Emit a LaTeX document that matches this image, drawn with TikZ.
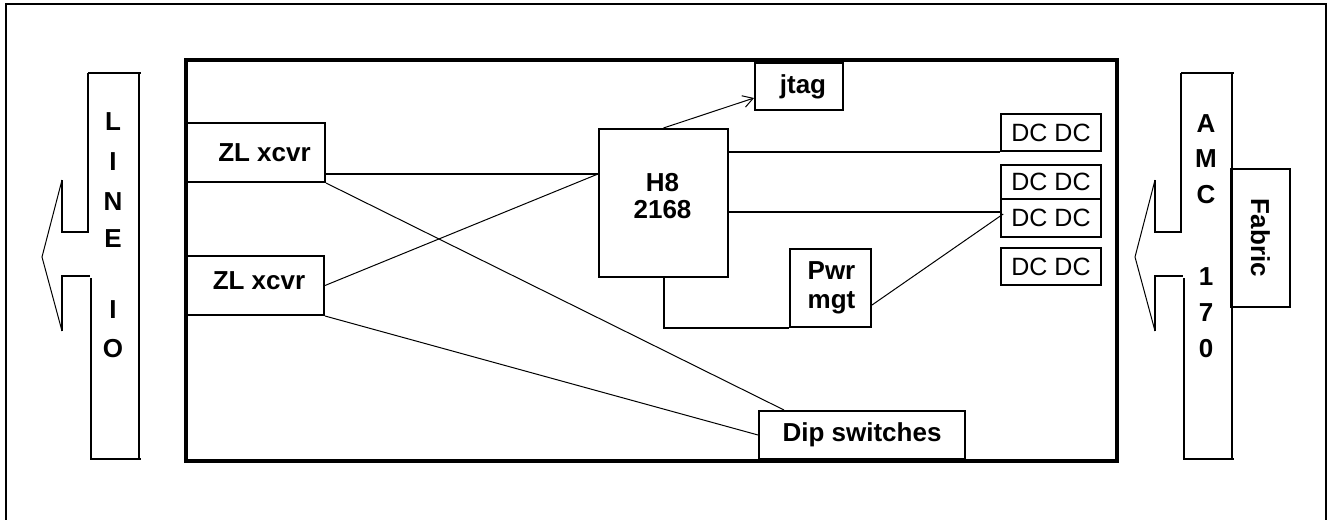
\documentclass[tikz,border=0pt]{standalone}
\usepackage{fontspec}
\setmainfont{Liberation Sans}
\usetikzlibrary{calc,arrows.meta}
\tikzset{
	blk/.style={draw, line width=2pt, inner sep=0pt, align=center, font=\fontsize{26}{28}\selectfont\bfseries},
	dcbox/.style={draw, line width=1.6pt, inner sep=0pt, minimum width=100pt, font=\fontsize{25}{30}\selectfont},
	letter/.style={inner sep=0pt, align=center, font=\fontsize{26}{27}\selectfont\bfseries},
	wire/.style={line width=1pt},
	bus/.style={line width=2pt}
}
\begin{document}
\begin{tikzpicture}[x=1pt, y=-1pt]
		\useasboundingbox (0,0) rectangle (1329,519);
		\draw[bus] (6,530) -- (6,4) -- (1326,4) -- (1326,530);
		\draw[line width=4pt] (186,60) rectangle (1117,461);
		
		% side connectors
		\foreach \dx in {0,1093} {
			\draw[bus, xshift=\dx] (88,73) -- (141,73);
			\draw[bus, xshift=\dx] (139,73) -- (139,459);
			\draw[bus, xshift=\dx] (90,459) -- (141,459);
			\draw[bus, xshift=\dx] (88,73) -- (88,232) -- (62,232) -- (62,180);
			\draw[wire, xshift=\dx] (62,180) -- (42,257) -- (62,331);
			\draw[bus, xshift=\dx] (62,331) -- (62,276) -- (90,276);
			\draw[bus, xshift=\dx] (91,278) -- (91,459);
		}
		\foreach \ch/\y [count=\i] in {L/122,I/162,N/202,E/239,I/310,O/349}
			\node[letter] (line\i) at (113,\y) {\ch};
		\foreach \ch/\y [count=\i] in {A/124,M/159,C/195,1/277,7/313,0/349}
			\node[letter] (amc\i) at (1206,\y) {\ch};
		\node[blk, rotate=-90, minimum width=138pt, minimum height=59pt] (fabric) at (1260.5,238) {Fabric};
		
		% board
		\node[blk, minimum width=139pt, minimum height=59pt] (zla) at (255.5,152.5) {\hspace{18pt}ZL xcvr};
		\node[blk, minimum width=138pt, minimum height=59pt] (zlb) at (255,285.5) {};
		\node[letter] (zlbtxt) at ($(zlb)+(4,-5)$) {ZL xcvr};
		\node[blk, minimum width=129pt, minimum height=148pt] (h8) at (663.5,203) {};
		\node[letter] (h8txt) at ($(h8)+(-1,-6.5)$) {H8\\2168};
		\node[blk, minimum width=88pt, minimum height=47pt] (jtag) at (799,86.5) {\hspace{8pt}jtag};
		\node[blk, minimum width=81pt, minimum height=78pt] (pwr) at (830.5,288) {};
		\node[letter, font=\fontsize{26}{29}\selectfont\bfseries] (pwrtxt) at ($(pwr)+(1,0)$) {Pwr\\mgt};
		\node[blk, minimum width=206pt, minimum height=48pt] (dip) at (862,435) {Dip switches};
		\foreach \n/\y/\h in {dca/132.5/37, dcb/182/34, dcc/218/38, dcd/266.5/37}
			\node[dcbox, minimum height=\h pt] (\n) at (1051,\y) {DC DC};
		
		\coordinate (h8in) at ($(h8.north west)+(0,46)$);
		\coordinate (dcin) at ($(dcc.west)+(0,-6)$);
		\draw[bus] (zla.east |- h8in) -- (h8in);
		\draw[wire] (zla.south east) -- ($(dip.north west)+(26,0)$);
		\draw[wire] (zlb.east) -- (h8in);
		\draw[wire] (zlb.south east) -- (dip.west);
		\draw[wire, -{Straight Barb[length=10pt,width=12pt]}] (h8.north) -- ($(jtag.south west)+(0,-13)$);
		\draw[bus] (h8.east |- dca.south west) -- (dca.south west);
		\draw[bus] (h8.east |- dcin) -- (dcin);
		\draw[bus] (h8.south) |- (pwr.south west);
		\draw[wire] ($(pwr.east)+(0,17)$) -- ($(dcc.west)+(3,-4)$);
\end{tikzpicture}
\end{document}
